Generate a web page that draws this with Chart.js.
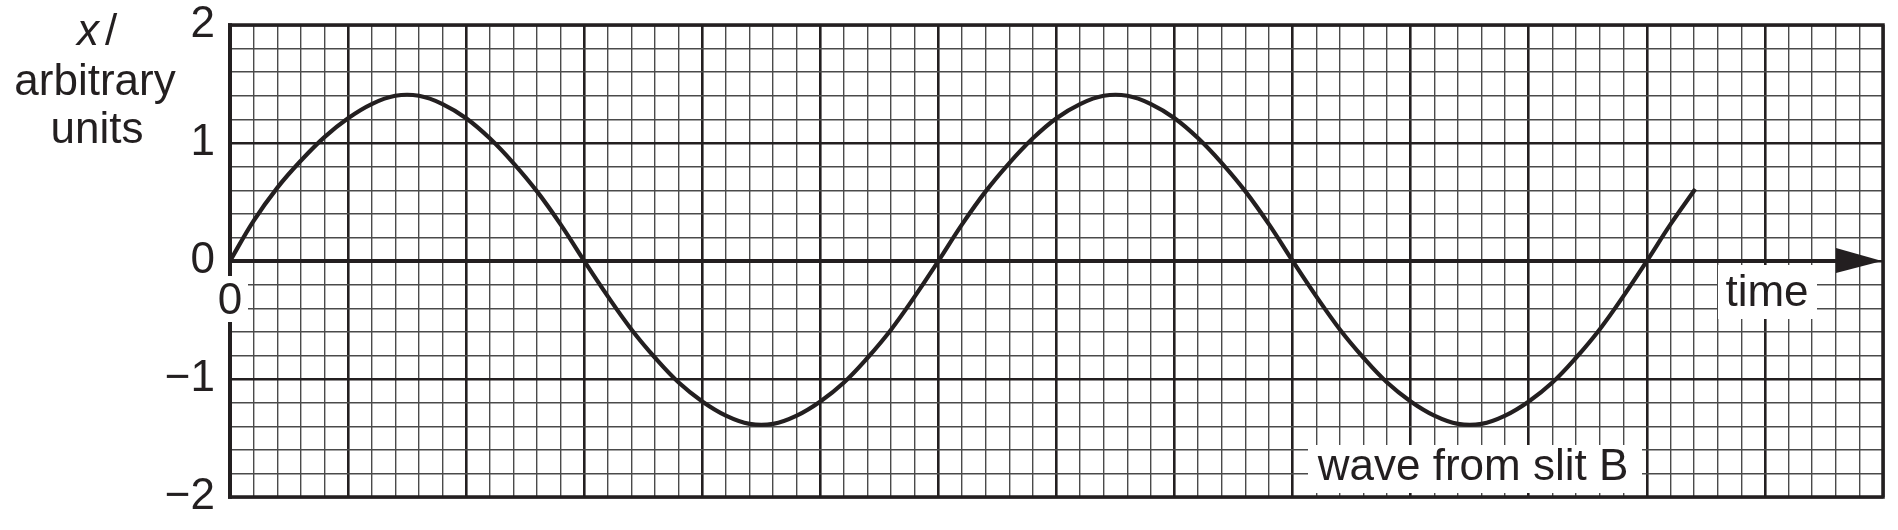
<!DOCTYPE html>
<html><head><meta charset="utf-8">
<script src="https://cdn.jsdelivr.net/npm/chart.js@4.4.1/dist/chart.umd.min.js"></script>
<style>html,body{margin:0;padding:0;background:#fff;}#wrap{width:1898px;height:530px;}</style>
</head><body><div id="wrap"><canvas id="c" width="1898" height="530"></canvas></div>
<script>
// ---- data ----
const timeValues = [0,0.2,0.4,0.6,0.8,1.0,1.2,1.4,1.6,1.8,2.0,2.2,2.4,2.6,2.8,3.0,3.2,3.4,3.6,3.8,
  4.0,4.2,4.4,4.6,4.8,5.0,5.2,5.4,5.6,5.8,6.0,6.2,6.4,6.6,6.8,7.0,7.2,7.4,7.6,7.8,
  8.0,8.2,8.4,8.6,8.8,9.0,9.2,9.4,9.6,9.8,10.0,10.2,10.4,10.6,10.8,11.0,11.2,11.4,11.6,11.8,
  12.0,12.2,12.41];
const displacementValues = [0,0.34,0.62,0.85,1.05,1.21,1.33,1.40,1.40,1.33,1.21,1.04,0.83,0.59,0.31,0,-0.30,-0.58,-0.82,-1.03,
  -1.19,-1.31,-1.38,-1.38,-1.31,-1.19,-1.03,-0.82,-0.58,-0.30,0,0.31,0.59,0.83,1.04,1.21,1.33,1.40,1.40,1.33,
  1.21,1.04,0.83,0.59,0.31,0,-0.30,-0.58,-0.82,-1.03,-1.19,-1.31,-1.38,-1.38,-1.31,-1.19,-1.03,-0.82,-0.58,-0.30,
  0,0.31,0.61];
const yTickValues = [-2,-1,0,1,2];
const yTickLabels = ['\u22122','\u22121','0','1','2'];
const yTitleVar = 'x';
const yTitleSlash = '/';
const yTitleLines = ['arbitrary','units'];
const xAxisLabel = 'time';
const originLabel = '0';
const seriesLabel = 'wave from slit B';
const X_MIN = 0, X_MAX = 14, Y_MIN = -2, Y_MAX = 2, GRID_STEP = 0.2;

// ---- styles ----
const INK = '#231f20';
const FONT = '"Liberation Sans", Arial, Helvetica, sans-serif';
const FS = 44;
const isMajor = v => Math.abs(v - Math.round(v)) < 1e-6;
const gridColor = c => isMajor(c.tick.value) ? INK : '#4a4a4a';
const gridWidth = c => isMajor(c.tick.value) ? 2.6 : 1.4;

const overlay = {
  id: 'overlay',
  afterDraw(chart) {
    const {ctx, chartArea: a, scales: {x, y}} = chart;
    const x0 = x.getPixelForValue(0), y0 = y.getPixelForValue(0);
    ctx.save();
    // white label boxes
    ctx.fillStyle = '#fff';
    ctx.fillRect(x0 - 14, y0 + 15, 32, 46);
    ctx.fillRect(a.right - 165, y0 + 4, 99, 54);
    ctx.fillRect(a.right - 575, a.bottom - 52, 334, 48);
    // frame
    ctx.strokeStyle = INK; ctx.lineCap = 'butt';
    ctx.lineWidth = 3.5;
    ctx.beginPath();
    ctx.moveTo(a.left - 2, a.top); ctx.lineTo(a.right + 1.75, a.top);
    ctx.moveTo(a.right, a.top); ctx.lineTo(a.right, a.bottom);
    ctx.moveTo(a.left - 2, a.bottom); ctx.lineTo(a.right + 1.75, a.bottom);
    ctx.stroke();
    ctx.lineWidth = 4;
    ctx.beginPath();
    ctx.moveTo(x0, a.top - 1.75); ctx.lineTo(x0, y0 + 15);
    ctx.moveTo(x0, y0 + 61); ctx.lineTo(x0, a.bottom + 1.75);
    ctx.stroke();
    // time axis with arrow
    ctx.beginPath();
    ctx.moveTo(x0, y0); ctx.lineTo(a.right - 44, y0);
    ctx.stroke();
    ctx.fillStyle = INK;
    ctx.beginPath();
    ctx.moveTo(a.right - 47, y0 - 13);
    ctx.lineTo(a.right - 1, y0);
    ctx.lineTo(a.right - 47, y0 + 12);
    ctx.closePath(); ctx.fill();
    // texts
    ctx.font = FS + 'px ' + FONT;
    ctx.textBaseline = 'alphabetic';
    ctx.textAlign = 'center';
    ctx.fillText(originLabel, x0, y0 + 53);
    ctx.fillText(xAxisLabel, a.right - 116, y0 + 45);
    ctx.fillText(seriesLabel, a.right - 410, a.bottom - 17);
    ctx.fillText(yTitleLines[0], 95, 95);
    ctx.fillText(yTitleLines[1], 97, 143);
    ctx.textAlign = 'left';
    ctx.font = 'italic ' + FS + 'px ' + FONT;
    ctx.fillText(yTitleVar, 77, 45);
    ctx.font = FS + 'px ' + FONT;
    ctx.fillText(yTitleSlash, 105, 45);
    ctx.restore();
  }
};

new Chart(document.getElementById('c'), {
  type: 'line',
  data: {
    datasets: [{
      label: seriesLabel,
      data: timeValues.map((t, i) => ({x: t, y: displacementValues[i]})),
      borderColor: INK,
      borderWidth: 4.2,
      pointRadius: 0,
      tension: 0.4,
      fill: false
    }]
  },
  options: {
    responsive: false,
    animation: false,
    devicePixelRatio: 1,
    layout: {padding: {left: 0, top: 25, right: 15, bottom: 33}},
    plugins: {legend: {display: false}, tooltip: {enabled: false}},
    scales: {
      x: {
        type: 'linear', min: X_MIN, max: X_MAX,
        border: {display: false},
        grid: {drawTicks: false, color: gridColor, lineWidth: gridWidth},
        ticks: {display: false, stepSize: GRID_STEP}
      },
      y: {
        type: 'linear', min: Y_MIN, max: Y_MAX,
        afterFit(scale) { scale.width = 230; scale.paddingTop = 0; scale.paddingBottom = 0; },
        border: {display: false},
        grid: {drawTicks: false, color: gridColor, lineWidth: gridWidth},
        ticks: {
          stepSize: GRID_STEP, autoSkip: false, padding: 15,
          color: INK,
          font: {family: FONT, size: FS, lineHeight: 1},
          callback: v => {
            const i = yTickValues.findIndex(t => Math.abs(t - v) < 1e-6);
            return i >= 0 ? yTickLabels[i] : '';
          }
        }
      }
    }
  },
  plugins: [overlay]
});
</script>
</body></html>
